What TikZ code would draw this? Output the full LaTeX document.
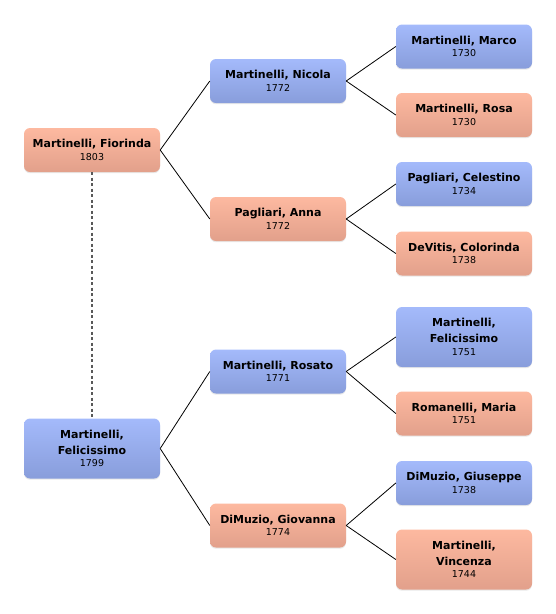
\documentclass[tikz,border=0pt]{standalone}
\usepackage{fontspec}
\setmainfont{DejaVu Sans}
\usepackage{xcolor}
\usepackage{tikz}
\usetikzlibrary{shadows}

\definecolor{bluetop}{HTML}{A4BAFB}
\definecolor{bluebot}{HTML}{889DDB}
\definecolor{pinktop}{HTML}{FDB9A0}
\definecolor{pinkbot}{HTML}{E2A08B}

\newcommand{\yr}[1]{\\[-3.5pt]{\mdseries\fontsize{9.5}{12}\selectfont #1}}

\begin{document}
\begin{tikzpicture}[x=1pt,y=-1pt,
    person/.style={rounded corners=6pt,minimum width=136pt,minimum height=44pt,
      align=center,inner sep=2pt,font=\fontsize{11}{16}\selectfont\bfseries,
      drop shadow={opacity=.18,shadow xshift=0pt,shadow yshift=-1.2pt}},
    male/.style={person,top color=bluetop,bottom color=bluebot},
    female/.style={person,top color=pinktop,bottom color=pinkbot},
    tall/.style={minimum height=60pt}]
    \useasboundingbox (0,0) rectangle (556,614);
    % generation 1
    \node[female] (fio) at (92,150) {Martinelli, Fiorinda\yr{1803}};
    \node[male,tall] (fel) at (92,448.5) {Martinelli,\\Felicissimo\yr{1799}};
    % generation 2
    \node[male] (nic) at (278,81) {Martinelli, Nicola\yr{1772}};
    \node[female] (ann) at (278,219) {Pagliari, Anna\yr{1772}};
    \node[male] (ros) at (278,371.5) {Martinelli, Rosato\yr{1771}};
    \node[female] (gio) at (278,525.5) {DiMuzio, Giovanna\yr{1774}};
    % generation 3
    \node[male] (mar) at (464,46.5) {Martinelli, Marco\yr{1730}};
    \node[female] (rsa) at (464,115) {Martinelli, Rosa\yr{1730}};
    \node[male] (cel) at (464,184) {Pagliari, Celestino\yr{1734}};
    \node[female] (col) at (464,253.5) {DeVitis, Colorinda\yr{1738}};
    \node[male,tall] (fe2) at (464,337) {Martinelli,\\Felicissimo\yr{1751}};
    \node[female] (mai) at (464,413.5) {Romanelli, Maria\yr{1751}};
    \node[male] (giu) at (464,483) {DiMuzio, Giuseppe\yr{1738}};
    \node[female,tall] (vin) at (464,559.5) {Martinelli,\\Vincenza\yr{1744}};
    % links
    \foreach \a/\b in {fio/nic,fio/ann,fel/ros,fel/gio,nic/mar,nic/rsa,ann/cel,ann/col,ros/fe2,ros/mai,gio/giu,gio/vin}{
      \draw[line width=.8pt] (\a.east) -- (\b.west);
    }
    \draw[gray!70!black,line width=1.2pt,dash pattern=on 3pt off 2.5pt] (fio.south) -- (fel.north);
  \end{tikzpicture}
\end{document}
